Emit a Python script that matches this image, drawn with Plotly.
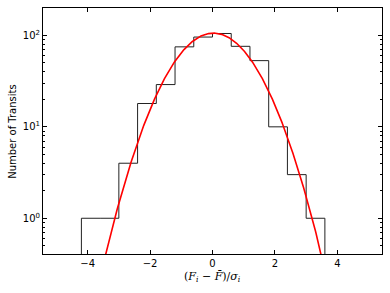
import numpy as np
import plotly.graph_objects as go

# histogram of normalised residuals (bin edges and counts)
bin_edges = [-4.2, -3.6, -3.0, -2.4, -1.8, -1.2, -0.6, 0.0, 0.6, 1.2, 1.8, 2.4, 3.0, 3.6]
counts = [1, 1, 4, 18, 29, 75, 96, 105, 76, 53, 10, 3, 1]

# gaussian fit parameters
fit_amp = 106.0
fit_mu = 0.03
fit_sigma = 1.035

x_ticks = [-4, -2, 0, 2, 4]
x_ticktext = ["\u22124", "\u22122", "0", "2", "4"]
y_ticks = [1, 10, 100]
y_ticktext = ["10<sup>0</sup>", "10<sup>1</sup>", "10<sup>2</sup>"]

floor = 0.1  # step outline drops below the axis at both ends

step_x = [bin_edges[0]] + bin_edges[:-1] + [bin_edges[-1], bin_edges[-1]]
step_y = [floor] + counts + [counts[-1], floor]

xs = np.linspace(-4.0, 4.0, 400)
ys = fit_amp * np.exp(-(xs - fit_mu) ** 2 / (2 * fit_sigma ** 2))

fig = go.Figure()
fig.add_trace(go.Scatter(x=step_x, y=step_y, mode="lines", line_shape="hv",
                         line=dict(color="#222222", width=1), showlegend=False))
fig.add_trace(go.Scatter(x=xs, y=ys, mode="lines",
                         line=dict(color="#ff0000", width=1.6), showlegend=False))

axis_common = dict(
    showgrid=False, zeroline=False, showline=True, linecolor="black", linewidth=1,
    mirror="allticks", ticks="inside", ticklen=4, tickcolor="black", automargin=False,
    tickfont=dict(family="DejaVu Sans", size=10, color="black"),
)

fig.update_layout(
    width=390, height=293,
    margin=dict(l=43, r=8, t=8, b=39),
    paper_bgcolor="white", plot_bgcolor="white",
    xaxis=dict(range=[-5.43, 5.43], tickvals=x_ticks, ticktext=x_ticktext, **axis_common),
    yaxis=dict(
        type="log", range=[-0.391, 2.30], tickvals=y_ticks, ticktext=y_ticktext,
        minor=dict(ticks="inside", ticklen=2, tickcolor="black", showgrid=False, dtick="D1"),
        **axis_common,
    ),
    annotations=[
        dict(text="(<i>F<sub>i</sub></i> \u2212 <i>F\u0304</i>)/<i>\u03c3<sub>i</sub></i>",
             xref="paper", yref="paper", x=0.5, y=-0.092, yanchor="middle", showarrow=False,
             font=dict(family="DejaVu Serif", size=11, color="black")),
        dict(text="Number of Transits", textangle=-90,
             xref="paper", yref="paper", x=-0.092, y=0.5, xanchor="center", showarrow=False,
             font=dict(family="DejaVu Sans", size=10, color="black")),
    ],
)

fig.write_html("out.html", config={"displayModeBar": False},
               post_script="document.body.style.margin='0';")
